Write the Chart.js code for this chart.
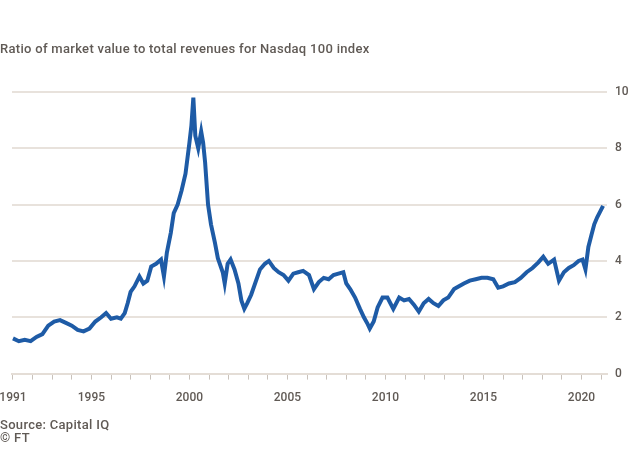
<!DOCTYPE html>
<html>
<head>
<meta charset="utf-8">
<script src="https://cdn.jsdelivr.net/npm/chart.js@4.4.1/dist/chart.umd.min.js"></script>
<style>
  html, body { margin: 0; padding: 0; background: #fff; }
  #wrap { position: relative; width: 630px; height: 450px; font-family: Roboto, "Liberation Sans", sans-serif; color: #605a55; }
  #chart { position: absolute; left: 0; top: 0; }
  .txt { position: absolute; left: 0; font-size: 13px; font-weight: 500; letter-spacing: 0.3px; white-space: nowrap; }
</style>
</head>
<body>
<div id="wrap">
  <canvas id="chart" width="630" height="450"></canvas>
  <div class="txt" style="top:41px">Ratio of market value to total revenues for Nasdaq 100 index</div>
  <div class="txt" style="top:417px">Source: Capital IQ</div>
  <div class="txt" style="top:430px">© FT</div>
</div>
<script>
// decimal years and ratio values
var years = [
  1991.0, 1991.3, 1991.6, 1991.9, 1992.2, 1992.5, 1992.8, 1993.1, 1993.4, 1993.7,
  1994.0, 1994.3, 1994.6, 1994.9, 1995.2, 1995.5, 1995.75, 1996.0, 1996.3, 1996.5,
  1996.7, 1996.85, 1997.0, 1997.2, 1997.45, 1997.65, 1997.85, 1998.05, 1998.3, 1998.55,
  1998.7, 1998.85, 1999.05, 1999.2, 1999.4, 1999.6, 1999.8, 2000.0, 2000.1, 2000.2,
  2000.3, 2000.45, 2000.6, 2000.7, 2000.8, 2000.95, 2001.1, 2001.3, 2001.45, 2001.7,
  2001.8, 2001.95, 2002.1, 2002.3, 2002.5, 2002.65, 2002.8, 2002.95, 2003.15, 2003.4,
  2003.6, 2003.85, 2004.05, 2004.3, 2004.55, 2004.8, 2005.05, 2005.3, 2005.55, 2005.8,
  2006.1, 2006.35, 2006.6, 2006.85, 2007.1, 2007.35, 2007.6, 2007.85, 2008.0, 2008.2,
  2008.45, 2008.7, 2008.9, 2009.1, 2009.2, 2009.4, 2009.6, 2009.85, 2010.1, 2010.4,
  2010.7, 2010.95, 2011.2, 2011.45, 2011.7, 2011.95, 2012.2, 2012.45, 2012.7, 2012.95,
  2013.2, 2013.5, 2013.75, 2014.0, 2014.3, 2014.6, 2014.9, 2015.2, 2015.5, 2015.75,
  2016.0, 2016.3, 2016.6, 2016.9, 2017.2, 2017.5, 2017.8, 2018.05, 2018.3, 2018.6,
  2018.85, 2019.1, 2019.35, 2019.6, 2019.85, 2020.05, 2020.2, 2020.35, 2020.5, 2020.65,
  2020.8, 2020.95, 2021.1
];
var ratio = [
  1.25, 1.15, 1.2, 1.15, 1.3, 1.4, 1.7, 1.85, 1.9, 1.8,
  1.7, 1.55, 1.5, 1.6, 1.85, 2.0, 2.15, 1.95, 2.0, 1.95,
  2.15, 2.5, 2.9, 3.1, 3.45, 3.2, 3.3, 3.8, 3.9, 4.05,
  3.45, 4.3, 5.0, 5.7, 6.0, 6.5, 7.1, 8.2, 8.8, 9.8,
  8.45, 8.0, 8.6, 8.2, 7.5, 6.0, 5.3, 4.65, 4.1, 3.6,
  3.2, 3.9, 4.05, 3.7, 3.2, 2.6, 2.3, 2.5, 2.8, 3.3,
  3.7, 3.9, 4.0, 3.75, 3.6, 3.5, 3.3, 3.55, 3.6, 3.65,
  3.5, 3.0, 3.25, 3.4, 3.35, 3.5, 3.55, 3.6, 3.2, 3.0,
  2.7, 2.3, 2.0, 1.75, 1.6, 1.85, 2.35, 2.7, 2.7, 2.3,
  2.7, 2.6, 2.65, 2.45, 2.2, 2.5, 2.65, 2.5, 2.4, 2.6,
  2.7, 3.0, 3.1, 3.2, 3.3, 3.35, 3.4, 3.4, 3.35, 3.05,
  3.1, 3.2, 3.25, 3.4, 3.6, 3.75, 3.95, 4.15, 3.9, 4.05,
  3.3, 3.6, 3.75, 3.85, 4.0, 4.05, 3.7, 4.5, 4.9, 5.3,
  5.55, 5.75, 5.96
];
var yearLabels = [1991, 1995, 2000, 2005, 2010, 2015, 2020];
var yTicks = [0, 2, 4, 6, 8, 10];

var points = years.map(function(y, i) { return { x: y, y: ratio[i] }; });
var ctx = document.getElementById('chart').getContext('2d');
new Chart(ctx, {
  type: 'line',
  data: {
    datasets: [{
      data: points,
      borderColor: '#1e5ba6',
      borderWidth: 4,
      pointRadius: 0,
      tension: 0,
      fill: false
    }]
  },
  options: {
    responsive: false,
    animation: false,
    layout: { padding: { top: 92, left: 12, right: 0, bottom: 34 } },
    plugins: { legend: { display: false }, tooltip: { enabled: false } },
    scales: {
      x: {
        type: 'linear',
        min: 1990.95,
        max: 2021.3,
        afterBuildTicks: function(axis) {
          var t = [];
          for (var yr = 1991; yr <= 2021; yr++) t.push({ value: yr });
          axis.ticks = t;
        },
        afterFit: function(axis) { axis.paddingLeft = 0; axis.paddingRight = 0; },
        ticks: {
          autoSkip: false,
          maxRotation: 0,
          padding: 11,
          color: '#605a55',
          font: { family: 'Roboto', size: 12, weight: '500' },
          callback: function(v) { return yearLabels.indexOf(v) >= 0 ? String(v) : ''; }
        },
        grid: { drawOnChartArea: false, drawTicks: true, tickLength: 6, tickColor: '#c9c2bb', lineWidth: 1 },
        border: { display: true, color: '#e4ddd6', width: 2 }
      },
      y: {
        position: 'right',
        min: 0,
        max: 10,
        afterBuildTicks: function(axis) {
          axis.ticks = yTicks.map(function(v) { return { value: v }; });
        },
        afterFit: function(axis) { axis.width = 23; },
        ticks: {
          padding: 8,
          color: '#605a55',
          font: { family: 'Roboto', size: 12, weight: '500' }
        },
        grid: { color: '#e8e2dc', lineWidth: 2, drawTicks: false },
        border: { display: false }
      }
    }
  }
});
</script>
</body>
</html>
